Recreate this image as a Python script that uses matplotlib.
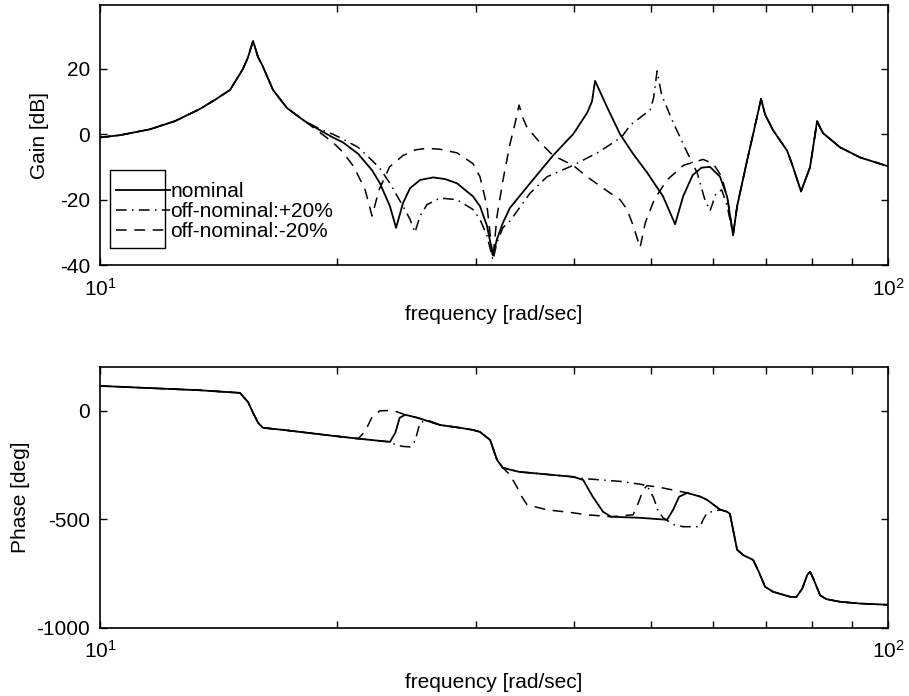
import numpy as np
import matplotlib.pyplot as plt
from matplotlib.patches import Rectangle
from matplotlib.ticker import NullFormatter, LogLocator

plt.rcParams['font.family'] = ['Liberation Sans', 'DejaVu Sans']
plt.rcParams['mathtext.fontset'] = 'custom'
plt.rcParams['mathtext.rm'] = 'Liberation Sans'
plt.rcParams['axes.unicode_minus'] = False

# ==========================================
# 1. DATA
# ==========================================
# nominal gain [dB]
gain_freq = [10.0, 10.6, 11.57, 12.45, 13.39, 13.99, 14.62, 15.19, 15.41, 15.64,
             15.87, 16.10, 16.58, 17.27, 18.11, 19.02, 19.75, 20.34, 21.26, 22.14,
             22.66, 23.33, 23.75, 24.24, 24.74, 25.47, 26.46, 27.41, 28.38, 29.74,
             30.35, 30.98, 31.52, 31.9, 32.46, 33.13, 35.13, 37.57, 39.84, 41.5,
             42.1, 42.48, 43.1, 43.99, 45.70, 47.47, 49.45, 51.82, 53.67, 54.94,
             56.5, 58.0, 59.44, 61.2, 62.47, 63.58, 64.33, 66.24, 67.41, 69.0,
             69.81, 71.46, 74.44, 75.5, 77.55, 79.62, 81.27, 82.0, 82.71, 86.9,
             92.15, 100.0]
gain_nom = [-1.0, -0.3, 1.5, 4.0, 7.7, 10.5, 13.5, 20.0, 23.5, 28.5,
            23.5, 20.6, 13.5, 8.0, 4.3, 1.2, -1.0, -2.5, -6.0, -11.0,
            -15.0, -22.0, -28.6, -21.0, -16.5, -14.0, -13.2, -13.7, -15.0, -19.0,
            -22.0, -28.0, -37.0, -32.0, -27.0, -22.5, -15.0, -6.5, 0.0, 6.5,
            10.0, 16.3, 13.0, 8.3, 0.0, -6.0, -11.7, -19.0, -27.5, -19.0,
            -12.5, -10.2, -10.0, -13.0, -19.0, -30.8, -22.0, -8.0, 0.0, 10.8,
            6.0, 1.2, -5.0, -9.0, -17.5, -10.0, 4.0, 2.0, 0.3, -4.0,
            -7.1, -9.8]

# off-nominal +20 % (only where it leaves the nominal curve)
gain_p20_freq = [18.11, 19.02, 19.75, 20.34, 21.26, 22.14, 22.66, 23.33, 24.24, 24.74,
                 25.1, 25.47, 26.0, 27.0, 28.38, 29.74, 30.35, 30.98, 31.52, 31.9,
                 32.46, 33.13, 35.13, 36.92, 39.84, 42.9, 45.9, 47.1, 49.89, 50.4,
                 50.92, 51.6, 53.36, 55.58, 57.23, 58.5, 59.44, 60.5, 61.5, 62.5,
                 63.58]
gain_p20 = [4.3, 1.5, 0.0, -1.5, -4.0, -8.0, -10.5, -15.0, -22.0, -26.0,
            -30.0, -25.0, -21.5, -19.5, -20.0, -23.0, -26.0, -31.0, -38.5, -33.0,
            -28.5, -26.5, -18.0, -13.0, -9.5, -5.5, -0.9, 2.8, 7.4, 11.0,
            19.3, 12.0, 3.6, -5.5, -11.7, -19.7, -23.4, -18.0, -17.0, -22.0,
            -30.8]

# off-nominal -20 %
gain_m20_freq = [18.11, 19.02, 19.75, 20.34, 21.0, 21.7, 22.14, 22.6, 23.3, 24.24,
                 25.1, 26.0, 27.0, 28.38, 29.74, 30.35, 30.98, 31.52, 31.9, 32.46,
                 33.13, 33.6, 34.02, 34.4, 34.83, 36.0, 37.57, 39.84, 41.5, 43.8,
                 45.7, 46.65, 47.5, 48.45, 49.2, 50.5, 52.4, 55.0, 58.24, 60.0,
                 61.5, 62.6, 63.58]
gain_m20 = [4.3, 0.5, -2.5, -5.5, -10.0, -17.0, -25.0, -17.0, -10.0, -6.5,
            -4.8, -4.3, -4.6, -5.7, -9.0, -13.0, -22.0, -38.0, -25.0, -14.0,
            -3.0, 3.0, 8.9, 5.0, 2.0, -2.0, -6.5, -9.5, -13.0, -17.0,
            -20.0, -23.0, -28.0, -34.6, -27.0, -20.0, -14.0, -9.5, -7.7, -9.0,
            -13.0, -20.0, -30.8]

# nominal phase [deg]
phase_freq = [10.0, 13.39, 15.05, 15.41, 15.64, 15.87, 16.10, 17.1, 19.75, 21.26,
              23.33, 23.7, 24.0, 24.4, 25.3, 27.0, 28.63, 29.74, 30.35, 31.26,
              31.9, 32.46, 34.02, 39.84, 41.02, 42.2, 43.48, 44.5, 48.45, 52.43,
              53.36, 54.3, 55.58, 57.73, 58.92, 61.2, 62.47, 63.0, 63.58, 64.33,
              65.5, 67.41, 68.5, 69.81, 71.46, 75.09, 76.5, 77.8, 79.0, 79.62,
              80.3, 81.99, 83.5, 86.9, 92.0, 100.0]
phase_nom = [115, 95, 83, 41, -9, -55, -78, -88, -115, -128,
             -143, -101, -32, -18, -32, -65, -78, -88, -97, -134,
             -226, -263, -281, -304, -318, -396, -465, -488, -493, -502,
             -456, -396, -378, -395, -410, -455, -465, -475, -548, -640,
             -665, -687, -740, -811, -834, -857, -858, -820, -755, -742,
             -770, -850, -868, -880, -888, -894]

phase_p20_freq = [23.33, 23.75, 24.24, 24.74, 25.1, 25.47, 26.0,
                  39.84, 41.02, 45.7, 48.45, 49.45, 50.4, 51.0, 51.82, 53.5,
                  54.94, 57.73, 58.24, 58.92, 61.2]
phase_p20 = [-143, -157, -164, -166, -140, -55, -42,
             -304, -312, -325, -338, -345, -400, -456, -493, -525,
             -534, -534, -502, -470, -456]

phase_m20_freq = [21.26, 21.7, 22.14, 22.66, 23.33, 23.75, 24.4,
                  32.46, 33.13, 33.8, 34.3, 34.83, 36.92, 39.84, 41.5, 44.5,
                  47.47, 48.0, 48.9, 49.45, 50.92, 55.58]
phase_m20 = [-128, -95, -28, 0, 2, -3, -18,
             -263, -295, -350, -396, -433, -456, -470, -479, -488,
             -479, -442, -364, -345, -350, -378]


def splice(f_nom, v_nom, f_seg, v_seg):
    """Replace the nominal points inside each band of the segment."""
    f_nom = np.asarray(f_nom, float)
    v_nom = np.asarray(v_nom, float)
    f_seg = np.asarray(f_seg, float)
    v_seg = np.asarray(v_seg, float)
    # bands are separated where the segment jumps over a long nominal stretch
    breaks = np.where(np.diff(f_seg) > 5.0)[0]
    starts = np.r_[0, breaks + 1]
    ends = np.r_[breaks, len(f_seg) - 1]
    keep = np.ones(len(f_nom), bool)
    for s, e in zip(starts, ends):
        keep &= ~((f_nom >= f_seg[s]) & (f_nom <= f_seg[e]))
    f = np.r_[f_nom[keep], f_seg]
    v = np.r_[v_nom[keep], v_seg]
    order = np.argsort(f)
    return f[order], v[order]


f_gp, g_p = splice(gain_freq, gain_nom, gain_p20_freq, gain_p20)
f_gm, g_m = splice(gain_freq, gain_nom, gain_m20_freq, gain_m20)
f_pp, p_p = splice(phase_freq, phase_nom, phase_p20_freq, phase_p20)
f_pm, p_m = splice(phase_freq, phase_nom, phase_m20_freq, phase_m20)

# ==========================================
# 2. PLOTTING
# ==========================================
fig = plt.figure(figsize=(9.09, 6.96), dpi=100)
ax1 = fig.add_axes([0.110, 0.619, 0.867, 0.374])
ax2 = fig.add_axes([0.110, 0.098, 0.867, 0.374])

lw = 1.3
dash = (7, 5)
dashdot = (7, 3.5, 1, 3.5)
fs = 15

ax1.plot(gain_freq, gain_nom, color='black', lw=lw, label='nominal')
ax1.plot(f_gp, g_p, color='black', lw=1.1, ls=(0, dashdot), label='off-nominal:+20%')
ax1.plot(f_gm, g_m, color='black', lw=1.1, ls=(0, dash), label='off-nominal:-20%')

ax2.plot(phase_freq, phase_nom, color='black', lw=lw)
ax2.plot(f_pp, p_p, color='black', lw=1.1, ls=(0, dashdot))
ax2.plot(f_pm, p_m, color='black', lw=1.1, ls=(0, dash))

for ax in (ax1, ax2):
    ax.set_xscale('log')
    ax.set_xlim(10, 100)
    ax.xaxis.set_major_locator(LogLocator(base=10, numticks=5))
    ax.xaxis.set_minor_locator(LogLocator(base=10, subs=np.arange(2, 10), numticks=12))
    ax.xaxis.set_minor_formatter(NullFormatter())
    ax.tick_params(which='both', direction='in', top=True, right=True,
                   labelsize=fs, width=1.0)
    ax.tick_params(which='major', length=5)
    ax.tick_params(axis='x', which='major', pad=9)
    ax.tick_params(axis='y', which='major', pad=7)
    ax.tick_params(which='minor', length=5)
    for sp in ax.spines.values():
        sp.set_linewidth(1.2)

ax1.set_xlabel('frequency [rad/sec]', fontsize=fs, labelpad=4)
ax2.set_xlabel('frequency [rad/sec]', fontsize=fs, labelpad=8)

ax1.set_ylim(-40, 39.5)
ax1.set_yticks([-40, -20, 0, 20])
ax1.set_ylabel('Gain [dB]', fontsize=fs, labelpad=8)

ax2.set_ylim(-1000, 200)
ax2.set_yticks([-1000, -500, 0])
ax2.set_ylabel('Phase [deg]', fontsize=fs, labelpad=5)

# legend: box only around the line samples, as in the scan
leg = ax1.legend(loc='lower left', bbox_to_anchor=(0.010, 0.060), frameon=False,
                 fontsize=fs, handlelength=2.6, handletextpad=0.0,
                 labelspacing=0.05, borderaxespad=0.0)
ax1.add_patch(Rectangle((0.0127, 0.065), 0.0698, 0.30, transform=ax1.transAxes,
                        fill=False, edgecolor='black', lw=1.0, zorder=5))

fig.savefig('out.png', dpi=100)
